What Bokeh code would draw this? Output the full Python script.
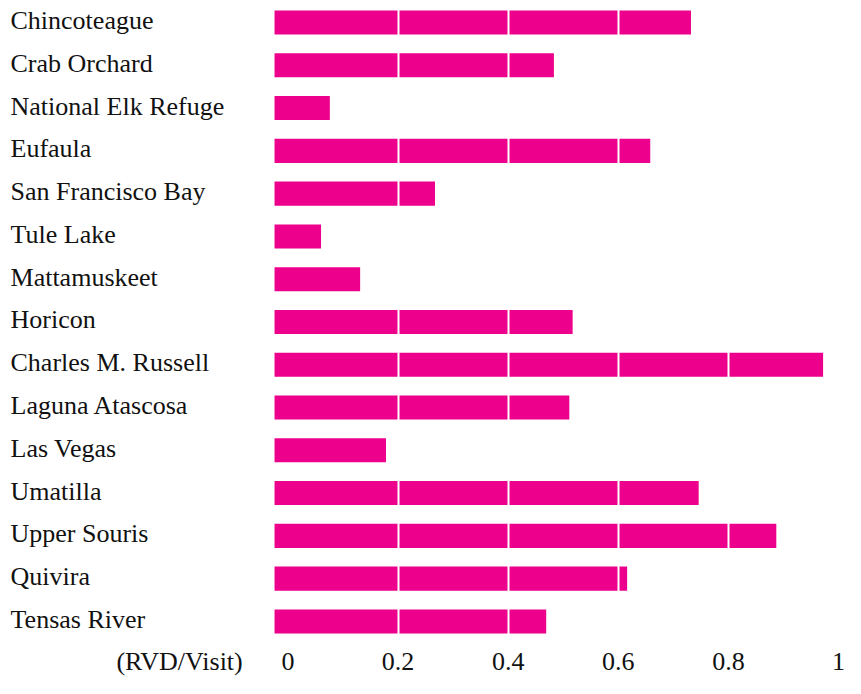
from bokeh.plotting import figure
from bokeh.models import Range1d, FixedTicker, ColumnDataSource
from bokeh.core.properties import value
from bokeh.embed import file_html
from bokeh.resources import INLINE

# ---- data ----
refuges = ["Chincoteague", "Crab Orchard", "National Elk Refuge", "Eufaula",
           "San Francisco Bay", "Tule Lake", "Mattamuskeet", "Horicon",
           "Charles M. Russell", "Laguna Atascosa", "Las Vegas", "Umatilla",
           "Upper Souris", "Quivira", "Tensas River"]
rvd_per_visit = [0.732, 0.483, 0.076, 0.658, 0.267, 0.060, 0.131, 0.517,
                 0.972, 0.511, 0.178, 0.746, 0.887, 0.616, 0.469]
tick_values = [-0.197, 0, 0.2, 0.4, 0.6, 0.8, 1]
tick_labels = ["(RVD/Visit)", "0", "0.2", "0.4", "0.6", "0.8", "1"]
grid_values = [0.2, 0.4, 0.6, 0.8]

# ---- style ----
PINK = "#EC008C"
FONT = "Liberation Serif"
FS = "26px"
BAR_BASE = -0.0245
LABEL_X = -0.5041

n = len(refuges)
rows = [n - 1 - i for i in range(n)]   # top row first

src = ColumnDataSource(dict(name=refuges, val=rvd_per_visit, row=rows))

p = figure(width=845, height=678, output_backend="svg", toolbar_location=None,
           x_range=Range1d(-0.5223, 1.0127), y_range=Range1d(-0.376, 14.515),
           y_axis_location=None, min_border=0, min_border_left=0,
           min_border_right=0, min_border_top=0, min_border_bottom=0)
p.outline_line_color = None
p.background_fill_color = "white"
p.border_fill_color = "white"

p.hbar(y="row", left=BAR_BASE, right="val", height=0.562, source=src,
       fill_color=PINK, line_color=None)

p.text(x=LABEL_X, y="row", text="name", source=src, y_offset=-2,
       text_font=value(FONT), text_font_size=FS, text_color="#111111",
       text_align="left", text_baseline="middle")

# grid drawn over the bars in white
p.ygrid.visible = False
p.xgrid.ticker = FixedTicker(ticks=grid_values)
p.xgrid.grid_line_color = "white"
p.xgrid.grid_line_width = 2
p.xgrid.level = "overlay"

ax = p.xaxis[0]
ax.ticker = FixedTicker(ticks=tick_values)
ax.major_label_overrides = {v: l for v, l in zip(tick_values, tick_labels)}
ax.axis_line_color = None
ax.major_tick_line_color = None
ax.minor_tick_line_color = None
ax.major_tick_out = 0
ax.major_tick_in = 0
ax.major_label_standoff = 9
ax.major_label_text_font = FONT
ax.major_label_text_font_size = FS
ax.major_label_text_color = "#111111"

open("out.html", "w").write(file_html(p, INLINE))
